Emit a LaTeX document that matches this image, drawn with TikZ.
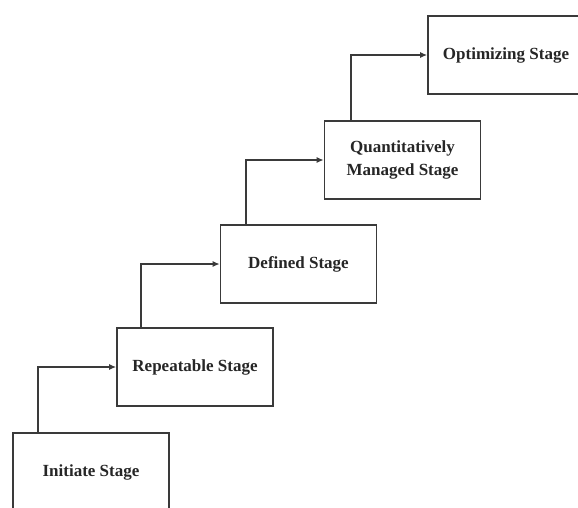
\documentclass[tikz,border=0pt]{standalone}
\usepackage{fontspec}
\setmainfont{Liberation Serif}
\usetikzlibrary{arrows.meta}
\definecolor{linegray}{HTML}{3A3A3A}
\definecolor{textgray}{HTML}{262626}
\begin{document}
\begin{tikzpicture}[x=1pt,y=-1pt,
  stagebox/.style={draw=linegray, line width=1.6pt, rectangle, minimum width=156pt, minimum height=78pt,
    align=center, text=textgray, font=\fontsize{17}{22.5}\selectfont\bfseries, inner sep=0pt},
  arr/.style={draw=linegray, line width=1.6pt, -{Latex[length=7pt,width=6pt]}}]
\useasboundingbox (0,0) rectangle (578,507);
\clip (0,0) rectangle (578,507);
\fill[white] (0,0) rectangle (578,507);
\node[stagebox] (b1) at (91,472) {Initiate Stage};
\node[stagebox] (b2) at (195,367) {Repeatable Stage};
\node[stagebox] (b3) at (298.5,264) {Defined Stage};
\node[stagebox] (b4) at (402.5,160) {Quantitatively\\Managed Stage};
\node[stagebox] (b5) at (506,55) {Optimizing Stage};
\draw[arr] ([xshift=26pt]b1.north west) |- (b2.west);
\draw[arr] ([xshift=25pt]b2.north west) |- (b3.west);
\draw[arr] ([xshift=26pt]b3.north west) |- (b4.west);
\draw[arr] ([xshift=27pt]b4.north west) |- (b5.west);
\end{tikzpicture}
\end{document}
